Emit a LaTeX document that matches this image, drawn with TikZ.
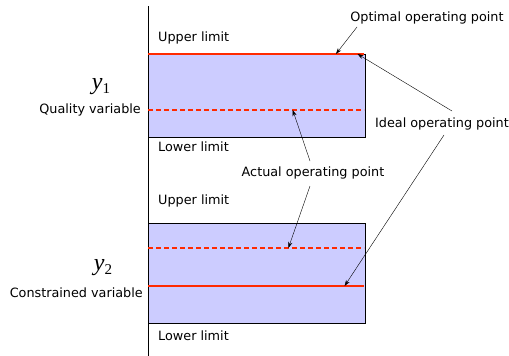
\documentclass[tikz,border=0pt]{standalone}
\usepackage{fontspec}
\setmainfont{DejaVu Sans}
\newfontfamily\varfont{Liberation Serif}
\usetikzlibrary{arrows.meta,positioning}
\definecolor{bandblue}{HTML}{CCCCFF}
\definecolor{oprred}{HTML}{FF2A00}
\newcommand{\varsym}[1]{{\varfont\itshape y}\raisebox{-4pt}{\varfont\fontsize{15}{17}\selectfont #1}}

\begin{document}
\begin{tikzpicture}[x=1pt,y=-1pt, every node/.style={align=center,inner sep=1pt,font=\fontsize{12.8}{15}\selectfont},
    band/.style={draw=black,thick,fill=bandblue},
    idealline/.style={oprred,line width=1.4pt},
    actualline/.style={oprred,line width=1.2pt,dash pattern=on 5pt off 3pt},
    pointer/.style={-{Stealth[length=6pt,width=4pt]},thin},
    varname/.style={font=\fontsize{24}{28}\selectfont}]
        \useasboundingbox (0,0) rectangle (509,356);
        \draw[thin] (148,6) -- (148,356);
        % first band
        \draw[band] (148,54) rectangle (365,137);
        \draw[idealline] (148,54) -- coordinate[pos=0.87] (opt1) coordinate[pos=0.97] (ideal1) (364,54);
        \draw[actualline] (148,110) -- coordinate[pos=0.67] (act1) (364,110);
        % second band
        \draw[band] (148,223) rectangle (365,323);
        \draw[actualline] (148,248) -- coordinate[pos=0.65] (act2) (364,248);
        \draw[idealline] (148,286) -- coordinate[pos=0.91] (ideal2) (364,286);
        % limits and names
        \node[anchor=west] (up1) at (157,38) {Upper limit};
        \node[anchor=west] (low1) at (157,147) {Lower limit};
        \node[anchor=west] (up2) at (157,201) {Upper limit};
        \node[anchor=west] (low2) at (157,336) {Lower limit};
        \node[varname] (y1) at (101,87) {\varsym{1}};
        \node[anchor=east] (qual) at (142,110) {Quality variable};
        \node[varname] (y2) at (103,268) {\varsym{2}};
        \node[anchor=east] (cons) at (144,293) {Constrained variable};
        % operating points
        \node (optlbl) at (427,18) {Optimal operating point};
        \node (ideallbl) at (442,124) {Ideal operating point};
        \node (actlbl) at (313,173) {Actual operating point};
        \draw[pointer] (357,27) -- (opt1);
        \draw[pointer] (452,111) -- (ideal1);
        \draw[pointer] (444,135) -- (ideal2);
        \draw[pointer] (310,161) -- (act1);
        \draw[pointer] (310,186) -- (act2);
      \end{tikzpicture}
\end{document}
